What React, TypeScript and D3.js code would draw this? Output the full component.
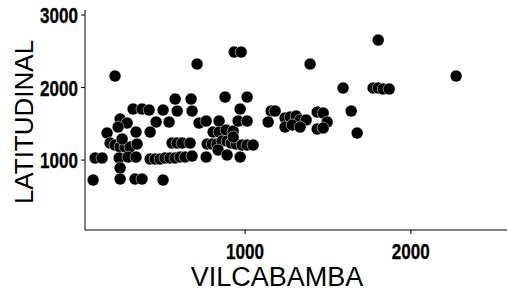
import React from 'react';
import * as d3 from 'd3';

// values
const vilcabamba = [
  83, 95, 137, 167, 185, 215, 246, 276, 306, 348, 258, 246, 288, 234, 324, 378, 421, 342, 505, 463, 541, 427,
  240, 294, 342, 246, 246, 336, 378, 505,
  427, 457, 487, 517, 547, 578, 608, 638, 680,
  590, 680, 578, 674, 559, 590, 620, 668,
  722, 765, 843, 807, 843, 885, 928, 879, 970, 1012, 958, 1012, 765, 970,
  771, 801, 831, 861, 891, 916, 946, 982, 1012, 1048, 837, 891, 928,
  215, 710, 934, 976,
  1157, 1181, 1139, 1241, 1272, 1308, 1332, 1368, 1241, 1284, 1332,
  1435, 1471, 1495, 1435, 1471, 1640, 1676,
  1591, 1772, 1803, 1833, 1869, 1803, 2273, 1392,
];
const latitudinal = [
  724, 1028, 1028, 1372, 1234, 1207, 1179, 1179, 1179, 1221, 1290, 1565, 1510, 1455, 1703, 1703, 1690, 1386, 1690, 1524, 1524, 1386,
  1028, 1041, 1041, 890, 738, 738, 738, 724,
  1014, 1014, 1014, 1028, 1028, 1028, 1041, 1041, 1055,
  1676, 1676, 1841, 1841, 1234, 1234, 1234, 1234,
  1510, 1538, 1538, 1386, 1386, 1414, 1400, 1869, 1703, 1869, 1538, 1538, 1041, 1041,
  1221, 1221, 1221, 1262, 1262, 1234, 1221, 1207, 1207, 1207, 1138, 1069, 1317,
  2158, 2324, 2489, 2489,
  1676, 1676, 1524, 1579, 1593, 1607, 1552, 1552, 1455, 1483, 1455,
  1662, 1648, 1524, 1428, 1441, 1676, 1372,
  1993, 1993, 1993, 1980, 1980, 2655, 2158, 2324,
];
const xTicks = [1000, 2000];
const yTicks = [1000, 2000, 3000];

const width = 507;
const height = 295;
const tickFont = "'Liberation Sans', Arial, sans-serif";
const titleFont = "'Liberation Sans', Arial, sans-serif";

export default function App() {
  const x = d3.scaleLinear().domain([34, 2580]).range([85, 507]);
  const y = d3.scaleLinear().domain([35, 3070]).range([230, 10]);

  const points = vilcabamba.map((v, i) => ({ vx: v, vy: latitudinal[i] }));

  return (
    <svg width={width} height={height} style={{ position: 'absolute', left: 0, top: 0 }}>
      <rect width={width} height={height} fill="white" />

      {/* axes */}
      <line x1={x.range()[0]} x2={x.range()[1]} y1={230} y2={230} stroke="black" strokeWidth={1} />
      <line x1={85} x2={85} y1={y.range()[0]} y2={y.range()[1]} stroke="black" strokeWidth={1} />

      {xTicks.map(t => (
        <g key={'x' + t}>
          <line x1={x(t)} x2={x(t)} y1={230} y2={234} stroke="black" />
          <text x={x(t) - 19} y={258.5} fontFamily={tickFont} fontWeight="bold" fontSize={22}
            stroke="black" strokeWidth={0.3} textLength={38} lengthAdjust="spacingAndGlyphs">
            {t}
          </text>
        </g>
      ))}
      {yTicks.map(t => (
        <g key={'y' + t}>
          <line x1={81} x2={85} y1={y(t)} y2={y(t)} stroke="black" />
          <text x={40} y={y(t) + 8} fontFamily={tickFont} fontWeight="bold" fontSize={22}
            stroke="black" strokeWidth={0.3} textLength={38} lengthAdjust="spacingAndGlyphs">
            {t}
          </text>
        </g>
      ))}

      {/* dots */}
      {points.map((d, i) => (
        <circle key={i} cx={x(d.vx)} cy={y(d.vy)} r={6} fill="black" stroke="white" strokeWidth={0.5} />
      ))}

      <text x={277} y={286} textAnchor="middle" fontFamily={titleFont} fontSize={27}>
        VILCABAMBA
      </text>
      <text
        transform={`translate(33, 122) rotate(-90)`}
        textAnchor="middle"
        fontFamily={titleFont}
        fontSize={26}
      >
        LATITUDINAL
      </text>
    </svg>
  );
}
